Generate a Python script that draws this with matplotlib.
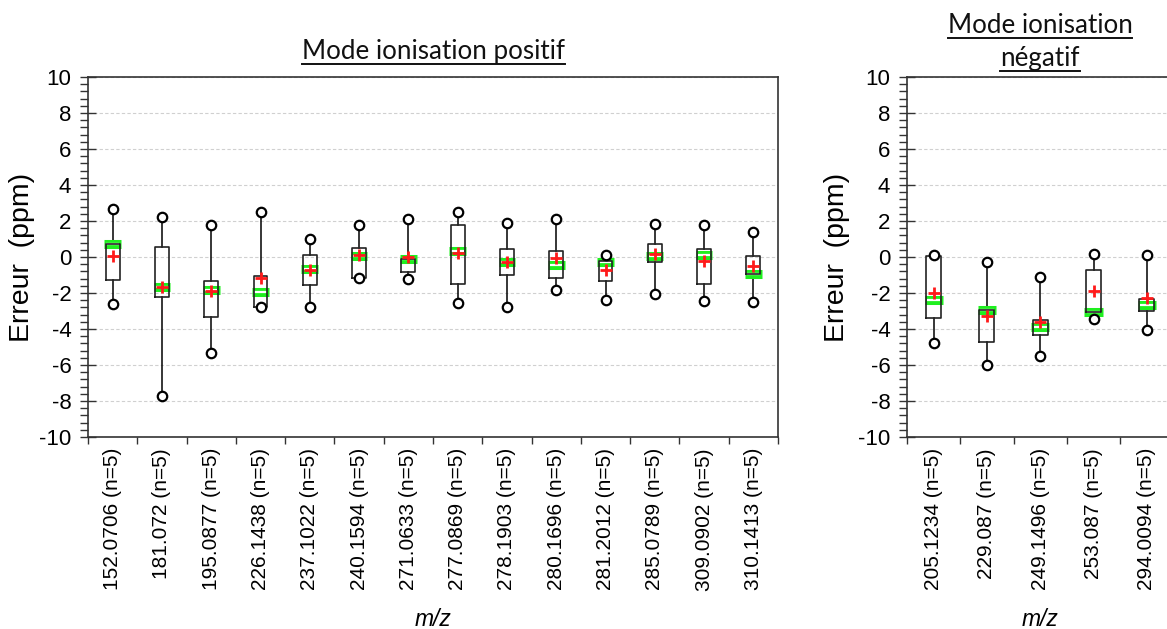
import matplotlib
matplotlib.use("Agg")
import matplotlib.pyplot as plt
from matplotlib.ticker import MultipleLocator, FixedLocator, NullFormatter
from matplotlib.lines import Line2D
import numpy as np

plt.rcParams["font.family"] = ["Liberation Sans", "DejaVu Sans"]
plt.rcParams["axes.unicode_minus"] = False

# ---------------- data ----------------
pos_labels = ["152.0706 (n=5)", "181.072 (n=5)", "195.0877 (n=5)", "226.1438 (n=5)",
              "237.1022 (n=5)", "240.1594 (n=5)", "271.0633 (n=5)", "277.0869 (n=5)",
              "278.1903 (n=5)", "280.1696 (n=5)", "281.2012 (n=5)", "285.0789 (n=5)",
              "309.0902 (n=5)", "310.1413 (n=5)"]
pos_min = [-2.62, -7.74, -5.36, -2.80, -2.79, -1.18, -1.23, -2.54, -2.79, -1.85, -2.41, -2.06, -2.43, -2.49]
pos_q1 = [-1.29, -2.24, -3.36, -2.80, -1.57, -1.18, -0.86, -1.51, -1.01, -1.14, -1.35, -0.30, -1.51, -0.93]
pos_med = [0.71, -1.68, -1.81, -1.94, -0.69, 0.07, -0.13, 0.32, -0.30, -0.43, -0.30, 0.07, 0.13, -0.93]
pos_q3 = [0.71, 0.54, -1.31, -1.07, 0.13, 0.50, -0.13, 1.76, 0.43, 0.32, -0.20, 0.75, 0.43, 0.04]
pos_max = [2.65, 2.21, 1.78, 2.52, 1.01, 1.79, 2.09, 2.52, 1.91, 2.09, 0.13, 1.83, 1.78, 1.40]
pos_mean = [0.07, -1.68, -1.91, -1.16, -0.73, 0.09, -0.02, 0.22, -0.28, -0.07, -0.73, 0.15, -0.22, -0.49]

neg_labels = ["205.1234 (n=5)", "229.087 (n=5)", "249.1496 (n=5)", "253.087 (n=5)", "294.0094 (n=5)"]
neg_min = [-4.80, -6.00, -5.49, -3.46, -4.04]
neg_q1 = [-3.38, -4.71, -4.32, -3.07, -2.99]
neg_med = [-2.37, -2.93, -3.89, -3.07, -2.69]
neg_q3 = [0.04, -2.93, -3.51, -0.71, -2.36]
neg_max = [0.11, -0.30, -1.12, 0.15, 0.09]
neg_mean = [-2.02, -3.29, -3.59, -1.89, -2.28]

title_pos = "Mode ionisation positif"
title_neg = ["Mode ionisation", "négatif"]
ylabel = "Erreur  (ppm)"
xlabel = "m/z"

# ---------------- figure ----------------
W, H = 1167, 629
fig = plt.figure(figsize=(W / 100, H / 100), dpi=100)
fig.patch.set_facecolor("white")

AR = "Liberation Sans"


def px_rect(x0, y0_top, x1, y1_bottom):
    return [x0 / W, 1 - y1_bottom / H, (x1 - x0) / W, (y1_bottom - y0_top) / H]


ax1 = fig.add_axes(px_rect(88, 77, 778, 437))
ax2 = fig.add_axes(px_rect(907, 77, 1173.5, 437))


def draw_panel(ax, labels, mn, q1, med, q3, mx, mean):
    n = len(labels)
    x = np.arange(n)
    bw = 0.28
    mw = 0.34
    for i in range(n):
        # whiskers
        ax.plot([x[i], x[i]], [mx[i], q3[i]], color="black", lw=1.1, zorder=2)
        ax.plot([x[i], x[i]], [q1[i], mn[i]], color="black", lw=1.1, zorder=2)
        # median (green hollow bar)
        ax.plot([x[i] - mw / 2, x[i] + mw / 2], [med[i], med[i]], color="#1fef1f",
                lw=6.5, solid_capstyle="butt", zorder=3)
        ax.plot([x[i] - mw / 2 + 0.045, x[i] + mw / 2 - 0.045], [med[i], med[i]], color="white",
                lw=1.6, solid_capstyle="butt", zorder=3.1)
        # box outline
        ax.plot([x[i] - bw / 2, x[i] + bw / 2, x[i] + bw / 2, x[i] - bw / 2, x[i] - bw / 2],
                [q1[i], q1[i], q3[i], q3[i], q1[i]], color="#222222", lw=1.2, zorder=4)
        # min/max circles
        ax.plot([x[i], x[i]], [mn[i], mx[i]], linestyle="none", marker="o", ms=6.8,
                mfc="white", mec="black", mew=1.6, zorder=5)
        # mean
        ax.plot([x[i]], [mean[i]], linestyle="none", marker="+", ms=8, mew=2.0,
                color="#ff1a1a", zorder=6)
    ax.set_xlim(-0.5, n - 0.5)
    ax.set_ylim(-10, 10)
    ax.yaxis.set_major_locator(MultipleLocator(2))
    ax.yaxis.set_minor_locator(MultipleLocator(0.4))
    ax.xaxis.set_major_locator(FixedLocator(np.arange(n + 1) - 0.5))
    ax.xaxis.set_major_formatter(NullFormatter())
    ax.xaxis.set_minor_locator(FixedLocator(x))
    ax.set_xticklabels(labels, minor=True, rotation=90, fontfamily=AR, fontsize=15,
                       ha="center", va="top")
    ax.tick_params(axis="x", which="minor", length=0, pad=8)
    ax.tick_params(axis="x", which="major", direction="out", length=5, width=1, color="#333333")
    ax.tick_params(axis="y", which="major", direction="inout", length=12, width=1,
                   color="#333333", labelsize=16, pad=6)
    ax.tick_params(axis="y", which="minor", direction="out", length=6, width=1, color="#333333")
    for lab in ax.get_yticklabels():
        lab.set_fontfamily(AR)
    ax.grid(axis="y", which="major", color="#d0d0d0", linestyle=(0, (3, 2)), lw=0.8, zorder=0)
    ax.set_axisbelow(True)
    for s in ax.spines.values():
        s.set_color("#333333")
        s.set_linewidth(1.2)


draw_panel(ax1, pos_labels, pos_min, pos_q1, pos_med, pos_q3, pos_max, pos_mean)
draw_panel(ax2, neg_labels, neg_min, neg_q1, neg_med, neg_q3, neg_max, neg_mean)

# y labels
yc = 1 - 257 / H
fig.text(22 / W, yc, ylabel, rotation=90, ha="center", va="center", fontfamily=AR, fontsize=20.5)
fig.text(837 / W, yc, ylabel, rotation=90, ha="center", va="center", fontfamily=AR, fontsize=20.5)

# x labels
fig.text(433 / W, 1 - 619 / H, xlabel, ha="center", va="center", fontfamily=AR,
         fontstyle="italic", fontsize=16.5)
fig.text(1040 / W, 1 - 619 / H, xlabel, ha="center", va="center", fontfamily=AR,
         fontstyle="italic", fontsize=16.5)

# titles (Calibri-like font, sized so that "Mode ionisation" is ~184 px wide)
TF = "Lato"
renderer = fig.canvas.get_renderer()
probe = fig.text(0, 0, title_neg[0], fontfamily=TF, fontsize=18)
wprobe = probe.get_window_extent(renderer).width
probe.remove()
tsize = 18 * 184.0 / wprobe

titles = [
    (433, 59, title_pos),
    (1040, 33, title_neg[0]),
    (1040, 66, title_neg[1]),
]
for cx, base, s in titles:
    t = fig.text(cx / W, 1 - base / H, s, ha="center", va="baseline", fontfamily=TF,
                 fontsize=tsize, color="#111111")
    bb = t.get_window_extent(renderer)
    uy = 1 - (base + 5) / H
    fig.add_artist(Line2D([bb.x0 / W, bb.x1 / W], [uy, uy], transform=fig.transFigure,
                          color="#111111", lw=1.4))

fig.savefig("out.png", dpi=100, facecolor="white")
